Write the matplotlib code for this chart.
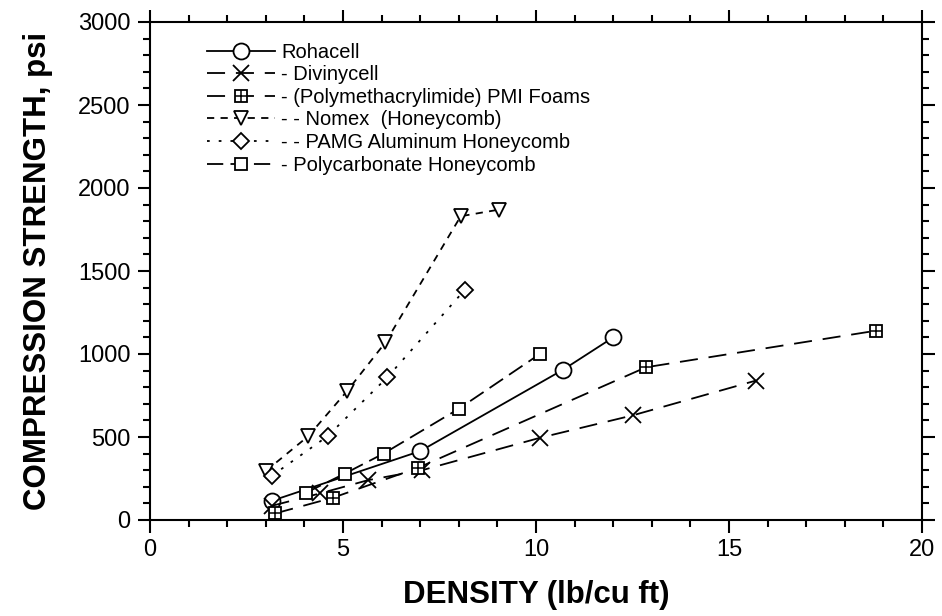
import matplotlib
matplotlib.use("Agg")
import matplotlib.pyplot as plt
from matplotlib.ticker import MultipleLocator

plt.rcParams['font.family'] = ['Liberation Sans', 'DejaVu Sans']

# values
roha_x = [3.15, 7.0, 10.7, 12.0]
roha_y = [115, 415, 905, 1100]
divi_x = [3.15, 4.4, 5.65, 7.05, 10.1, 12.5, 15.7]
divi_y = [85, 160, 240, 300, 495, 630, 840]
pmi_x = [3.25, 4.75, 6.95, 12.85, 18.8]
pmi_y = [40, 135, 315, 920, 1140]
nomex_x = [3.0, 4.1, 5.1, 6.1, 8.05, 9.05]
nomex_y = [295, 505, 775, 1070, 1830, 1870]
pamg_x = [3.15, 4.6, 6.15, 8.15]
pamg_y = [265, 505, 860, 1385]
poly_x = [4.05, 5.05, 6.05, 8.0, 10.1]
poly_y = [165, 280, 400, 670, 1000]

labels = ['Rohacell', '- Divinycell', '- (Polymethacrylimide) PMI Foams',
          '- - Nomex  (Honeycomb)', '- - PAMG Aluminum Honeycomb', '- Polycarbonate Honeycomb']

LW = 1.3
fig = plt.figure(figsize=(9.42, 6.16), dpi=100)
ax = fig.add_axes([150 / 942, 1 - 520 / 616, 772 / 942, 498 / 616])

h1, = ax.plot(roha_x, roha_y, 'k-', lw=LW, marker='o', ms=11.5, mfc='white', mew=1.3)
h2, = ax.plot(divi_x, divi_y, color='k', lw=LW, ls=(0, (10, 6)), marker='x', ms=11, mew=1.3)
h3, = ax.plot(pmi_x, pmi_y, color='k', lw=LW, ls=(0, (10, 6)), marker='s', ms=8, mfc='white', mew=1.3)
h3b, = ax.plot(pmi_x, pmi_y, color='k', ls='none', marker='+', ms=8, mew=1.1)
h4, = ax.plot(nomex_x, nomex_y, color='k', lw=LW, ls=(0, (4, 3.5)), marker='v', ms=10, mfc='white', mew=1.3)
h5, = ax.plot(pamg_x, pamg_y, color='k', lw=LW, ls=(0, (1.5, 5)), marker='D', ms=8, mfc='white', mew=1.3)
h6, = ax.plot(poly_x, poly_y, color='k', lw=LW, ls=(0, (9, 4)), marker='s', ms=9, mfc='white', mew=1.3)

ax.legend([h1, h2, (h3, h3b), h4, h5, h6], labels,
          loc='upper left', bbox_to_anchor=(0.05, 0.995), frameon=False,
          fontsize=14.5, handlelength=3.4, handletextpad=0.3, labelspacing=0.18)

ax.set_xlim(0, 20)
ax.set_ylim(0, 3000)
ax.xaxis.set_major_locator(MultipleLocator(5))
ax.xaxis.set_minor_locator(MultipleLocator(1))
ax.yaxis.set_major_locator(MultipleLocator(500))
ax.yaxis.set_minor_locator(MultipleLocator(100))
ax.tick_params(which='both', direction='out', top=True, right=True, width=1.5, labelsize=17)
ax.tick_params(which='major', length=9, pad=5)
ax.tick_params(which='minor', length=5)
for s in ax.spines.values():
    s.set_linewidth(1.5)

ax.set_xlabel('DENSITY (lb/cu ft)', fontsize=22.5, fontweight='bold', labelpad=13)
ax.set_ylabel('COMPRESSION STRENGTH, psi', fontsize=22.5, fontweight='bold', labelpad=18)

fig.savefig('out.png', dpi=100)
